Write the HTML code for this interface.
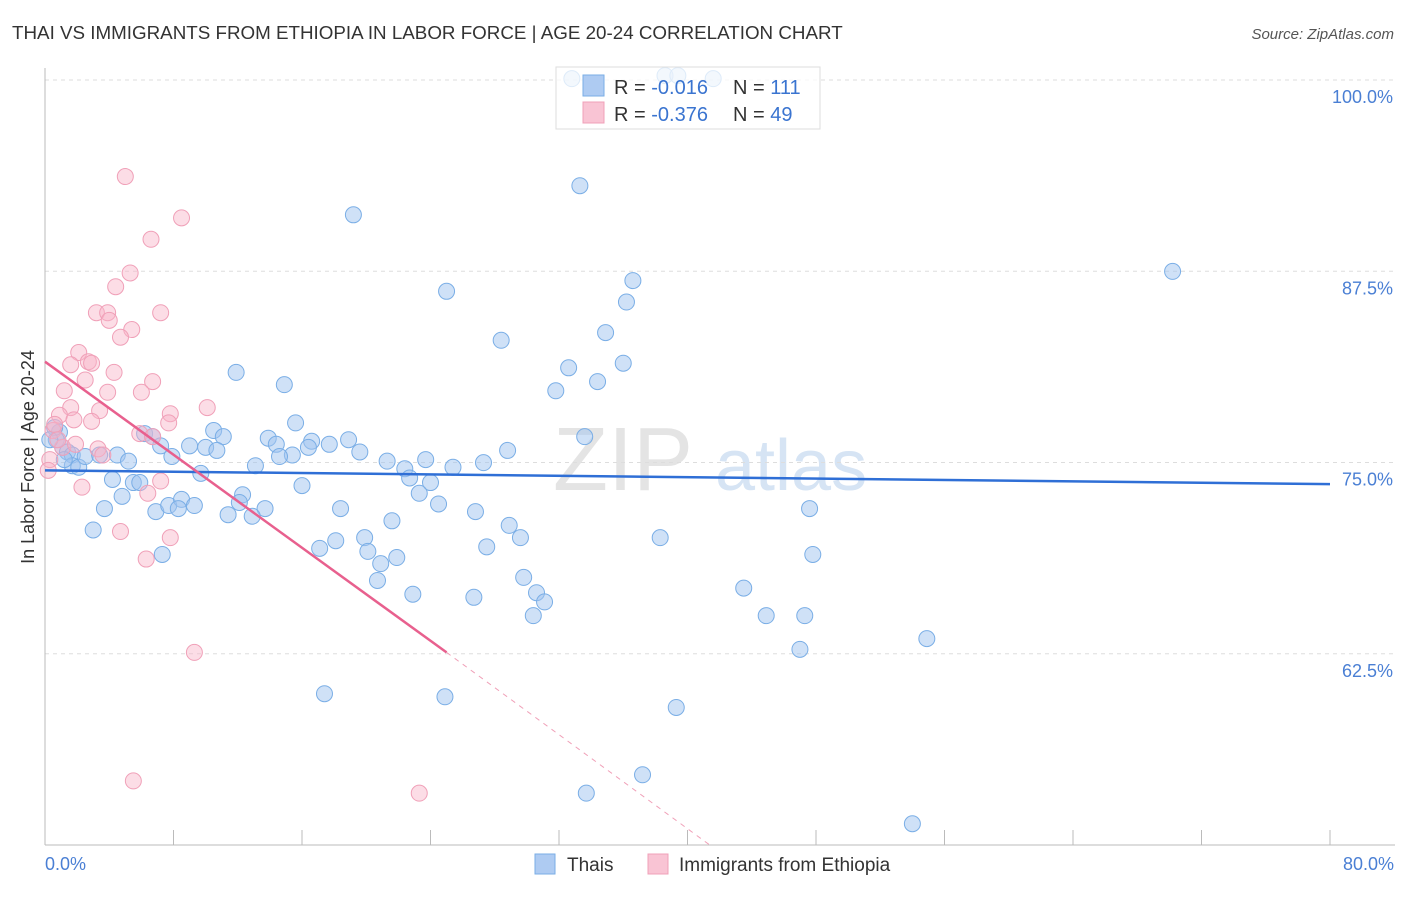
<!DOCTYPE html>
<html><head><meta charset="utf-8"><style>
body{margin:0;background:#fff;font-family:"Liberation Sans",sans-serif;}
svg text{font-family:"Liberation Sans",sans-serif;}
</style></head><body>
<svg id="chart" width="1406" height="892" xmlns="http://www.w3.org/2000/svg">
<text x="12" y="39" font-size="18.8" fill="#333">THAI VS IMMIGRANTS FROM ETHIOPIA IN LABOR FORCE | AGE 20-24 CORRELATION CHART</text>
<text x="1394" y="39" font-size="15" fill="#555" text-anchor="end" font-style="italic">Source: ZipAtlas.com</text>
<g>
<text x="553" y="490" font-size="90" fill="#e4e4e4" font-family="Liberation Serif">ZIP</text>
<text x="715" y="490" font-size="72" fill="#d6e4f4">atlas</text>
</g>
<g id="grid"></g>
<g id="axes"></g>
<g id="marks"></g>
<text transform="translate(34,457) rotate(-90)" font-size="18" fill="#333" text-anchor="middle">In Labor Force | Age 20-24</text>
<text x="45" y="870" font-size="18" fill="#4a7fd4">0.0%</text>
<text x="1394" y="870" font-size="18" fill="#4a7fd4" text-anchor="end">80.0%</text>
<g>
<rect x="556" y="67" width="264" height="62" fill="rgba(255,255,255,0.75)" stroke="#ddd"/>
<rect x="583" y="75" width="21" height="21" fill="#aecbf2" stroke="#7aaee6"/>
<rect x="583" y="102" width="21" height="21" fill="#f9c4d4" stroke="#f0a0b8"/>
<text x="614" y="94" font-size="20" fill="#333">R = <tspan fill="#3a74d0">-0.016</tspan></text>
<text x="733" y="94" font-size="20" fill="#333">N = <tspan fill="#3a74d0">111</tspan></text>
<text x="614" y="121" font-size="20" fill="#333">R = <tspan fill="#3a74d0">-0.376</tspan></text>
<text x="733" y="121" font-size="20" fill="#333">N = <tspan fill="#3a74d0">49</tspan></text>
</g>
<g>
<rect x="535" y="854" width="20" height="20" fill="#aecbf2" stroke="#7aaee6"/>
<text x="567" y="871" font-size="19" fill="#333">Thais</text>
<rect x="648" y="854" width="20" height="20" fill="#f9c4d4" stroke="#f0a0b8"/>
<text x="679" y="871" font-size="19" fill="#333">Immigrants from Ethiopia</text>
</g>
</svg>
<script>
const yTicks=[100,87.5,75,62.5];
const yTickLabels=["100.0%","87.5%","75.0%","62.5%"];
const xTicks=[0,8,16,24,32,40,48,56,64,72,80];
const thaiX=[32.8,38.6,39.4,41.6,33.3,19.2,70.2,36.6,25.0,36.2,34.9,28.4,32.6,36.0,34.4,31.8,11.9,14.9,15.6,10.5,11.1,9.0,10.0,10.7,13.9,14.4,16.6,17.7,18.9,19.6,16.4,15.4,14.6,13.1,21.3,22.4,23.7,22.7,24.0,23.3,25.4,24.5,27.3,28.8,33.6,16.0,12.3,12.1,13.7,11.4,12.9,18.4,21.6,19.9,18.1,17.1,20.1,20.9,21.9,20.7,22.9,26.8,28.9,29.6,27.5,26.7,29.8,30.6,31.1,30.4,38.3,47.6,47.8,43.5,44.9,47.3,47.0,54.9,39.3,37.2,33.7,54.0,17.4,24.9,0.9,0.7,1.1,1.4,1.7,1.7,2.1,2.5,3.0,3.7,4.2,4.5,5.2,4.8,5.5,5.9,6.2,6.7,7.2,7.9,7.3,6.9,7.7,8.5,8.3,9.3,9.7,0.6,0.3,3.4,1.2];
const thaiY=[101.2,101.4,101.4,101.2,94.2,92.3,88.6,88.0,87.3,86.6,84.6,84.1,82.3,82.6,81.4,80.8,82.0,81.2,78.7,78.2,77.8,77.2,77.1,76.9,77.7,77.3,77.5,77.3,77.6,76.8,77.1,76.6,76.5,75.9,76.2,75.7,76.3,75.1,74.8,74.1,75.8,73.4,76.1,76.9,77.8,74.6,74.0,73.5,73.1,72.7,72.6,73.1,72.3,71.2,71.0,70.5,70.3,69.5,69.9,68.4,67.5,72.9,72.0,71.2,70.6,67.3,68.6,67.6,67.0,66.1,71.2,73.1,70.1,67.9,66.1,66.1,63.9,64.6,60.1,55.7,54.5,52.5,61.0,60.8,78.1,77.6,77.1,76.8,76.6,75.9,75.8,76.5,71.7,73.1,75.0,76.6,76.2,73.9,74.8,74.8,78.0,77.8,77.2,76.5,70.1,72.9,73.3,73.7,73.1,73.3,75.4,78.4,77.6,76.6,76.3];
const ethX=[5.0,8.5,6.6,5.3,4.4,3.2,3.9,4.0,7.2,5.4,4.7,2.1,1.6,2.7,2.9,4.3,2.5,6.7,1.2,3.9,6.0,10.1,1.6,3.4,0.9,7.8,1.8,2.9,7.7,0.5,5.9,6.7,1.1,3.3,1.9,3.6,0.3,0.2,7.2,2.3,6.4,4.7,7.8,6.3,9.3,5.5,23.3,0.6,0.8];
const ethY=[94.8,92.1,90.7,88.5,87.6,85.9,85.9,85.4,85.9,84.8,84.3,83.3,82.5,82.7,82.6,82.0,81.5,81.4,80.8,80.7,80.7,79.7,79.7,79.5,79.2,79.3,78.9,78.8,78.7,78.2,78.0,77.8,77.1,77.0,77.3,76.6,76.3,75.6,74.9,74.5,74.1,71.6,71.2,69.8,63.7,55.3,54.5,78.6,77.6];
const thaiTrend=[[0,75.6],[80,74.7]];
const ethTrendSolid=[[0,82.7],[25.0,63.7]];
const ethTrendDash=[[25.0,63.7],[41.4,51.1]];

const NS="http://www.w3.org/2000/svg";
const X=v=>45+v*16.0625;
const Y=v=>97+(100-v)*15.3;
function mk(tag,attrs,parent){const e=document.createElementNS(NS,tag);for(const k in attrs)e.setAttribute(k,attrs[k]);parent.appendChild(e);return e;}
const grid=document.getElementById('grid'),axes=document.getElementById('axes'),marks=document.getElementById('marks');
mk('line',{x1:45,x2:1395,y1:80,y2:80,stroke:'#ddd','stroke-dasharray':'4,4'},grid);
yTicks.forEach((t,i)=>{
 const l=mk('line',{x1:45,x2:1395,y1:Y(t)-17,y2:Y(t)-17,stroke:'#ddd','stroke-dasharray':'4,4'},grid);
 
 
 const tx=mk('text',{x:1393,y:Y(t)+6,'font-size':18,fill:'#4a7fd4','text-anchor':'end'},grid);
 tx.textContent=yTickLabels[i];
 
 
});
const ya=mk('line',{x1:45,x2:45,y1:68,y2:845,stroke:'#bbb'},axes);


const xa=mk('line',{x1:45,x2:1395,y1:845,y2:845,stroke:'#bbb'},axes);


xTicks.forEach(t=>{
 const l=mk('line',{x1:X(t),x2:X(t),y1:830,y2:845,stroke:'#bbb'},axes);
 
 
});
thaiX.forEach((v,i)=>{
 const c=mk('circle',{cx:X(v),cy:Y(thaiY[i]),r:8,fill:'rgba(160,196,240,0.5)',stroke:'#7aaee6','stroke-width':1},marks);
 
 
});
ethX.forEach((v,i)=>{
 const c=mk('circle',{cx:X(v),cy:Y(ethY[i]),r:8,fill:'rgba(248,180,200,0.45)',stroke:'#f0a0b8','stroke-width':1},marks);
 
 
});
const tl=mk('line',{x1:X(thaiTrend[0][0]),y1:Y(thaiTrend[0][1]),x2:X(thaiTrend[1][0]),y2:Y(thaiTrend[1][1]),stroke:'#2f6fd6','stroke-width':2.5},marks);


const el=mk('line',{x1:X(ethTrendSolid[0][0]),y1:Y(ethTrendSolid[0][1]),x2:X(ethTrendSolid[1][0]),y2:Y(ethTrendSolid[1][1]),stroke:'#e8608e','stroke-width':2.5},marks);


const ed=mk('line',{x1:X(ethTrendDash[0][0]),y1:Y(ethTrendDash[0][1]),x2:X(ethTrendDash[1][0]),y2:Y(ethTrendDash[1][1]),stroke:'#f0a0b8','stroke-width':1,'stroke-dasharray':'5,5'},marks);


</script>
</body></html>
